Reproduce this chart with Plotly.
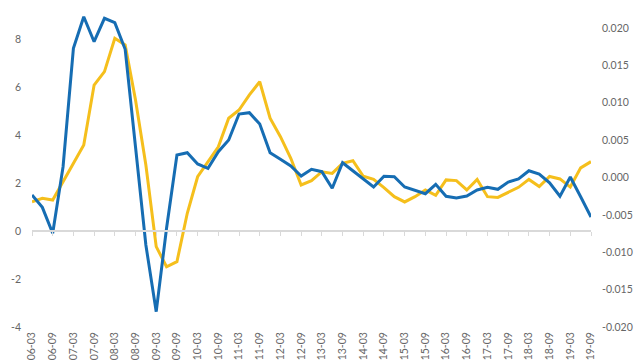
import plotly.graph_objects as go

quarters = [f"{y}-{m}" for y in range(2006, 2020) for m in ("03", "06", "09", "12")][:55]
tick_labels = quarters[::2]

# Yellow series (left axis)
yellow = [1.22, 1.36, 1.29, 2.05, 2.82, 3.58, 6.08, 6.64, 8.03, 7.75,
          5.46, 2.75, -0.65, -1.49, -1.28, 0.74, 2.26, 2.89, 3.51, 4.70,
          5.04, 5.67, 6.22, 4.70, 3.93, 3.03, 1.92, 2.10, 2.47, 2.40,
          2.82, 2.93, 2.28, 2.15, 1.81, 1.43, 1.21, 1.43, 1.71, 1.49,
          2.13, 2.10, 1.71, 2.15, 1.43, 1.40, 1.60, 1.82, 2.15, 1.85,
          2.27, 2.17, 1.83, 2.63, 2.89]

# Blue series (right axis)
blue = [-0.00234, -0.00399, -0.00746, 0.00144, 0.01728, 0.02151, 0.01817, 0.02130, 0.02071, 0.01715,
        0.00408, -0.00903, -0.01795, -0.00676, 0.00301, 0.00332, 0.00181, 0.00123, 0.00345, 0.00502,
        0.00849, 0.00867, 0.00716, 0.00332, 0.00243, 0.00154, 0.00020, 0.00110, 0.00078, -0.00144,
        0.00198, 0.00087, -0.00027, -0.00127, 0.00016, 0.00011, -0.00127, -0.00174, -0.00217, -0.00091,
        -0.00251, -0.00274, -0.00247, -0.00167, -0.00131, -0.00158, -0.00060, -0.00020, 0.00091, 0.00047,
        -0.00070, -0.00251, 0.00007, -0.00257, -0.00528]

left_range = [-4, 9.625]
right_range = [-0.020, 0.02375]
left_ticks = [-4, -2, 0, 2, 4, 6, 8]
right_ticks = [-0.020, -0.015, -0.010, -0.005, 0.000, 0.005, 0.010, 0.015, 0.020]

YELLOW = "#F5BF1C"
BLUE = "#166DB3"
GRAY = "#666666"
AXIS = "#D9D9D9"
FONT = dict(family="Lato, 'Open Sans', sans-serif", size=10.5, color=GRAY)

fig = go.Figure()
fig.add_trace(go.Scatter(x=quarters, y=yellow, mode="lines", xaxis="x", yaxis="y",
                         line=dict(color=YELLOW, width=3), showlegend=False))
fig.add_trace(go.Scatter(x=quarters, y=blue, mode="lines", xaxis="x2", yaxis="y2",
                         line=dict(color=BLUE, width=3), showlegend=False))

zero_pos = (0 - left_range[0]) / (left_range[1] - left_range[0])

fig.update_layout(
    width=640, height=360,
    margin=dict(l=32, r=49, t=0, b=33),
    paper_bgcolor="white", plot_bgcolor="white",
    font=FONT,
    xaxis=dict(type="category", range=[0, len(quarters) - 1],
               tickmode="array", tickvals=tick_labels, ticktext=tick_labels,
               tickangle=-90, showgrid=False, showline=False, zeroline=False,
               ticks="", automargin=False, tickfont=FONT, ticklabelstandoff=2),
    xaxis2=dict(type="category", matches="x", overlaying="x", anchor="free",
                position=zero_pos, showticklabels=False, showgrid=False,
                showline=True, linecolor=AXIS, linewidth=1.5,
                ticks="outside", ticklen=4, tickcolor=AXIS, tickwidth=1,
                tickmode="array", tickvals=tick_labels, zeroline=False),
    yaxis=dict(range=left_range, tickmode="array", tickvals=left_ticks,
               ticktext=[str(v) for v in left_ticks],
               showgrid=False, zeroline=False, showline=False, ticks="",
               automargin=False, tickfont=FONT, ticklabelstandoff=10),
    yaxis2=dict(range=right_range, overlaying="y", side="right", anchor="x2",
                tickmode="array", tickvals=right_ticks,
                ticktext=[f"{v:.3f}" for v in right_ticks],
                showgrid=False, zeroline=False, showline=False, ticks="",
                automargin=False, tickfont=FONT, ticklabelstandoff=10),
)

fig.write_html("out.html",
               config={"displayModeBar": False},
               post_script="document.body.style.margin='0';document.body.style.overflow='hidden';")
